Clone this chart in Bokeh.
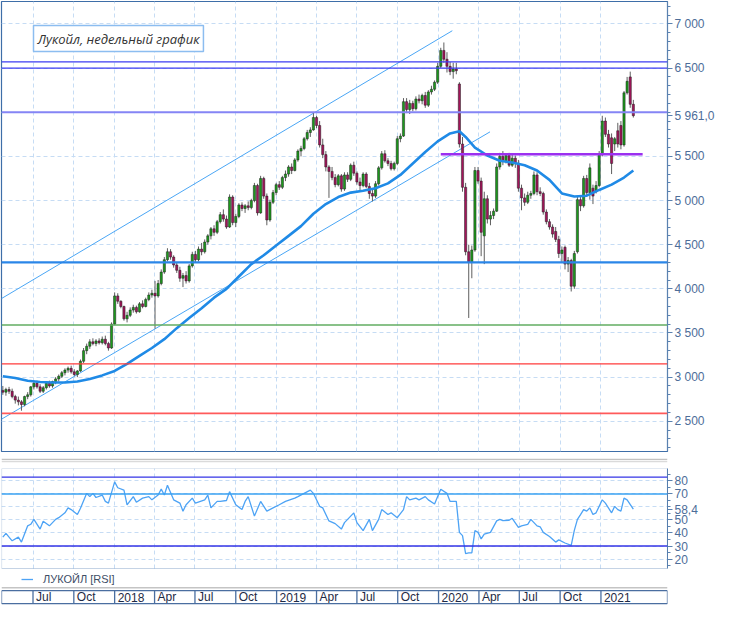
import numpy as np
import pandas as pd
from bokeh.plotting import figure
from bokeh.models import (Range1d, FixedTicker, Span, Label, Legend, LegendItem,
                          ColumnDataSource, BoxAnnotation)
from bokeh.layouts import column
from bokeh.embed import file_html
from bokeh.resources import INLINE
from bokeh.core.properties import value

# ---------------- data ----------------
week_start = "2017-04-24"
opens = [2850, 2830, 2860, 2840, 2780, 2740, 2720, 2690, 2780, 2800,
         2890, 2930, 2890, 2840, 2880, 2930, 2900, 2950, 2980, 3010,
         3050, 3080, 3100, 3060, 3030, 3070, 3180, 3300, 3350, 3400,
         3380, 3410, 3390, 3430, 3380, 3330, 3600, 3920, 3860, 3800,
         3660, 3700, 3760, 3790, 3740, 3830, 3800, 3880, 3930, 3950,
         3920, 4060, 4190, 4330, 4420, 4360, 4270, 4210, 4120, 4150,
         4090, 4260, 4390, 4330, 4450, 4420, 4530, 4600, 4680, 4640,
         4760, 4840, 4790, 4700, 5040, 4750, 4820, 4950, 4910, 4940,
         4920, 5000, 5170, 4860, 5250, 5050, 4780, 4980, 5090, 5180,
         5150, 5260, 5300, 5380, 5340, 5460, 5560, 5590, 5700, 5770,
         5800, 5940, 5850, 5630, 5520, 5380, 5330, 5260, 5180, 5280,
         5130, 5290, 5240, 5400, 5310, 5210, 5170, 5300, 5160, 5080,
         5050, 5190, 5370, 5530, 5450, 5420, 5360, 5420, 5700, 5730,
         6120, 6030, 6100, 6040, 6150, 6130, 6190, 6080, 6230, 6260,
         6340, 6520, 6700, 6600, 6520, 6460, 6490, 6320, 5640, 5150,
         4420, 4300, 4440, 5340, 5220, 4600, 5020, 4790, 4830, 4880,
         5380, 5500, 5450, 5510, 5400, 5480, 5420, 5140, 5030, 4980,
         5060, 5080, 5290, 5100, 5080, 4870, 4760, 4700, 4650, 4560,
         4400, 4470, 4280, 4320, 4030, 4420, 5010, 4940, 5250, 5090,
         5140, 5100, 5170, 5520, 5900, 5750, 5710, 5640, 5790, 5850,
         5630, 6220, 6400, 6090]
highs = [2900, 2880, 2890, 2870, 2800, 2780, 2740, 2790, 2830, 2900,
         2960, 2960, 2920, 2900, 2950, 2960, 2960, 3000, 3030, 3070,
         3100, 3120, 3130, 3090, 3080, 3200, 3330, 3380, 3430, 3440,
         3430, 3440, 3460, 3470, 3400, 3620, 3960, 3950, 3870, 3810,
         3740, 3790, 3820, 3810, 3850, 3870, 3900, 3960, 3990, 4090,
         4100, 4220, 4360, 4460, 4450, 4380, 4300, 4250, 4180, 4200,
         4280, 4420, 4430, 4480, 4520, 4560, 4620, 4700, 4720, 4780,
         4870, 4900, 4830, 5070, 5060, 4850, 4970, 4980, 4960, 4990,
         5020, 5200, 5190, 5280, 5270, 5080, 5010, 5120, 5200, 5220,
         5280, 5340, 5400, 5420, 5480, 5580, 5620, 5720, 5800, 5830,
         5990, 5960, 5900, 5700, 5560, 5400, 5380, 5300, 5300, 5300,
         5320, 5320, 5420, 5440, 5330, 5260, 5320, 5320, 5200, 5130,
         5220, 5390, 5560, 5570, 5480, 5450, 5440, 5730, 5760, 6160,
         6160, 6140, 6130, 6180, 6200, 6210, 6230, 6250, 6300, 6360,
         6560, 6730, 6790, 6680, 6570, 6560, 6560, 6340, 5720, 5200,
         4500, 4490, 5380, 5380, 5260, 5100, 5060, 4880, 4910, 5420,
         5540, 5560, 5530, 5540, 5520, 5510, 5460, 5180, 5080, 5100,
         5110, 5330, 5320, 5150, 5100, 4900, 4790, 4730, 4700, 4600,
         4480, 4490, 4360, 4340, 4430, 5040, 5060, 5280, 5290, 5420,
         5180, 5220, 5560, 5960, 5940, 5800, 5760, 5720, 5880, 5900,
         6240, 6400, 6460, 6140]
lows = [2800, 2790, 2810, 2760, 2700, 2680, 2620, 2670, 2750, 2780,
        2860, 2870, 2820, 2820, 2860, 2880, 2880, 2920, 2950, 2990,
        3020, 3050, 3040, 3010, 3000, 3060, 3160, 3260, 3320, 3360,
        3350, 3370, 3370, 3360, 3300, 3320, 3590, 3830, 3780, 3640,
        3620, 3680, 3730, 3720, 3730, 3780, 3790, 3860, 3900, 3550,
        3900, 4040, 4170, 4310, 4330, 4240, 4180, 4080, 4020, 4060,
        4070, 4240, 4300, 4310, 4380, 4400, 4500, 4560, 4600, 4620,
        4740, 4760, 4680, 4690, 4720, 4700, 4800, 4880, 4860, 4890,
        4900, 4980, 4830, 4850, 5020, 4720, 4760, 4960, 5060, 5120,
        5130, 5220, 5270, 5300, 5330, 5440, 5500, 5570, 5680, 5720,
        5790, 5820, 5600, 5480, 5330, 5030, 5230, 5150, 5160, 5100,
        5110, 5210, 5220, 5280, 5180, 5120, 5150, 5140, 5020, 4990,
        5030, 5170, 5350, 5430, 5390, 5340, 5340, 5400, 5660, 5720,
        5990, 5980, 6010, 6020, 6100, 6090, 6050, 6060, 6200, 6240,
        6320, 6500, 6560, 6450, 6420, 6380, 6430, 5600, 5100, 4380,
        3670, 4120, 4420, 5190, 4370, 4280, 4740, 4720, 4790, 4870,
        5350, 5400, 5420, 5380, 5380, 5370, 5100, 4890, 4940, 4960,
        5020, 5060, 5060, 5050, 4840, 4730, 4670, 4580, 4530, 4350,
        4300, 4220, 4190, 3970, 4000, 4400, 4880, 4920, 5050, 5010,
        4960, 5080, 5150, 5500, 5720, 5600, 5300, 5560, 5600, 5580,
        5610, 6200, 6050, 5940]
closes = [2830, 2860, 2840, 2780, 2740, 2720, 2690, 2780, 2800, 2890,
          2930, 2890, 2840, 2880, 2930, 2900, 2950, 2980, 3010, 3050,
          3080, 3100, 3060, 3030, 3070, 3180, 3300, 3350, 3400, 3380,
          3410, 3390, 3430, 3380, 3330, 3600, 3920, 3860, 3800, 3660,
          3700, 3760, 3790, 3740, 3830, 3800, 3880, 3930, 3950, 3920,
          4060, 4190, 4330, 4420, 4360, 4270, 4210, 4120, 4150, 4090,
          4260, 4390, 4330, 4450, 4420, 4530, 4600, 4680, 4640, 4760,
          4840, 4790, 4700, 5040, 4750, 4820, 4950, 4910, 4940, 4920,
          5000, 5170, 4860, 5250, 5050, 4780, 4980, 5090, 5180, 5150,
          5260, 5300, 5380, 5340, 5460, 5560, 5590, 5700, 5770, 5800,
          5940, 5850, 5630, 5520, 5380, 5330, 5260, 5180, 5280, 5130,
          5290, 5240, 5400, 5310, 5210, 5170, 5300, 5160, 5080, 5050,
          5190, 5370, 5530, 5450, 5420, 5360, 5420, 5700, 5730, 6120,
          6030, 6100, 6040, 6150, 6130, 6190, 6080, 6230, 6260, 6340,
          6520, 6700, 6600, 6520, 6460, 6490, 6470, 5640, 5150, 4420,
          4300, 4440, 5340, 5220, 4640, 5020, 4790, 4830, 4880, 5380,
          5500, 5450, 5510, 5400, 5480, 5420, 5140, 5030, 4980, 5060,
          5080, 5290, 5100, 5080, 4870, 4760, 4700, 4620, 4560, 4400,
          4440, 4280, 4320, 4030, 4400, 5010, 4940, 5250, 5090, 5370,
          5050, 5170, 5520, 5900, 5750, 5640, 5420, 5700, 5640, 5630,
          6220, 6350, 6090, 5961]

# moving average (week index, value)
ma_week = [0, 4, 8, 12, 16, 20, 24, 28, 32, 36, 40, 44, 48, 52, 56, 60, 64, 68,
           72, 76, 80, 84, 88, 92, 96, 100, 104, 108, 112, 116, 120, 124, 128,
           132, 136, 140, 144, 147, 149, 152, 156, 160, 164, 168, 172, 176, 180,
           184, 188, 192, 196, 200, 203]
ma_val = [3010, 2990, 2960, 2945, 2940, 2940, 2950, 2980, 3020, 3070, 3150, 3240,
          3330, 3430, 3555, 3670, 3780, 3900, 4000, 4140, 4280, 4380, 4490, 4600,
          4710, 4850, 4960, 5040, 5090, 5110, 5140, 5194, 5290, 5420, 5550, 5670,
          5760, 5785, 5720, 5600, 5510, 5450, 5430, 5400, 5340, 5234, 5080, 5045,
          5055, 5120, 5180, 5260, 5340]

# RSI (week index, value)
rsi_week = [0, 1, 3, 5, 6, 8, 9, 10, 12, 13, 15, 17, 18, 20, 21, 22, 24, 25, 27,
            28, 29, 30, 32, 33, 34, 36, 37, 39, 40, 42, 43, 45, 47, 48, 50, 51,
            52, 53, 55, 57, 58, 59, 61, 62, 65, 66, 67, 69, 70, 72, 73, 75, 77,
            78, 79, 81, 83, 85, 87, 89, 91, 94, 95, 97, 99, 100, 102, 103, 105,
            107, 109, 110, 113, 114, 116, 118, 119, 121, 122, 124, 125, 127, 129,
            130, 131, 133, 134, 136, 137, 139, 140, 141, 143, 144, 146, 147, 148,
            149, 150, 151, 152, 153, 154, 155, 157, 159, 160, 161, 163, 164, 166,
            167, 169, 170, 172, 173, 174, 176, 178, 179, 181, 183, 184, 185, 186,
            187, 188, 189, 190, 191, 193, 194, 196, 197, 198, 199, 200, 201, 203]
rsi_val = [36.8, 39.7, 34, 36.8, 33, 45.5, 46.7, 50.5, 43, 49, 45.5, 50.5, 51.8,
           55.5, 59.3, 58, 54.2, 59, 70.5, 68, 70.5, 67.3, 69.2, 64.3, 63, 79.3,
           74.8, 73, 61.7, 68, 63.7, 66.8, 68, 65.5, 69.2, 73.7, 69.2, 76.7, 65.5,
           63, 56.8, 61.7, 66.8, 63, 65.5, 69.2, 59.3, 64.3, 64.3, 65, 71.8, 61.7,
           58, 64.3, 68, 53, 64.3, 56.8, 59.3, 61.7, 64.3, 66.8, 68, 70.5, 73,
           70.5, 60.5, 59.3, 49.3, 47.2, 43, 48, 55.5, 48, 41.8, 50.5, 41.8, 50.5,
           58, 54.2, 55.5, 51.8, 58, 68, 65.5, 66.8, 65.5, 68, 65.5, 62.3, 68,
           73.7, 70.5, 64.3, 64.3, 40.5, 38, 24.2, 24.7, 24.7, 41.8, 40.5, 35.5,
           39.2, 40.5, 49.3, 50.5, 49.5, 49.8, 51.3, 44.3, 45.5, 46.7, 50.5, 45.5,
           44.8, 40.5, 37.3, 33, 34.7, 32.3, 30.5, 42, 50.5, 54.2, 58, 56.8, 59.3,
           54.2, 55.5, 65.5, 63, 55.5, 60.5, 58, 56.8, 66.8, 65.5, 58.4]

# horizontal levels drawn on the price chart
level_prices = [6570, 6500, 6000, 4300, 3590, 3150, 2590]
level_colors = ["#3d3df2", "#3d3df2", "#8585f5", "#2a86e8", "#62ad62", "#ff3b3b", "#ff5a5a"]
level_widths = [1.4, 1.4, 2.0, 2.2, 1.6, 1.2, 1.6]

# channel lines (date, price)
upper_channel = (["2017-04-21", "2020-02-01"], [3890, 6923])
lower_channel = (["2017-04-21", "2020-04-26"], [2524, 5778])
purple_level = 5525
purple_dates = ["2020-01-06", "2021-04-05"]

# RSI levels
rsi_levels = [83, 70, 30]
rsi_level_colors = ["#3535e6", "#3aa2f2", "#3535e6"]

# ticks
quarter_dates = ["2017-07-01", "2017-10-01", "2018-01-01", "2018-04-01", "2018-07-01",
                 "2018-10-01", "2019-01-01", "2019-04-01", "2019-07-01", "2019-10-01",
                 "2020-01-01", "2020-04-01", "2020-07-01", "2020-10-01", "2021-01-01"]
quarter_labels = ["Jul", "Oct", "2018", "Apr", "Jul", "Oct", "2019", "Apr", "Jul", "Oct",
                  "2020", "Apr", "Jul", "Oct", "2021"]
price_ticks = [2500, 3000, 3500, 4000, 4500, 5000, 5500, 6000, 6500, 7000]
rsi_ticks = [20, 30, 40, 50, 60, 70, 80]
last_price = 5961.0
last_rsi = 58.4

# ---------------- styling ----------------
FONT = "Liberation Sans"
AXIS_C = "#5b82b0"
LABEL_C = "#4d6d99"
GRID_C = "#c6dcf4"
FRAME_C = "#3e6ea8"
FRAME_W = 666
RB = 47
RSI_LO, RSI_HI = 12.7, 89.6          # visible RSI box
RSI_PAD = (RSI_HI - RSI_LO) * 18 / 100  # room under the box for the legend

weeks = pd.date_range(week_start, periods=len(closes), freq="7D")
x_start = pd.Timestamp("2017-04-21")
x_end = pd.Timestamp("2021-05-31")
xr = Range1d(start=x_start, end=x_end)
q_ts = pd.to_datetime(quarter_dates)
q_ms = [float((t - pd.Timestamp("1970-01-01")) / pd.Timedelta("1ms")) for t in q_ts]


def fmt_price(v):
    if v == last_price:
        return "5 961,0"
    return f"{int(v):,}".replace(",", " ")


def style_axis(fig, ticks, minor, overrides, grid_ticks):
    ax = fig.yaxis[0]
    ax.ticker = FixedTicker(ticks=ticks, minor_ticks=minor)
    ax.major_label_overrides = overrides
    ax.axis_line_color = AXIS_C
    ax.major_tick_line_color = AXIS_C
    ax.minor_tick_line_color = AXIS_C
    ax.major_tick_in = 0
    ax.major_tick_out = 5
    ax.minor_tick_in = 0
    ax.minor_tick_out = 3
    ax.major_label_text_color = LABEL_C
    ax.major_label_text_font = FONT
    ax.major_label_text_font_size = "12px"
    ax.major_label_standoff = 2
    fig.ygrid.ticker = FixedTicker(ticks=grid_ticks)
    fig.xgrid.ticker = FixedTicker(ticks=q_ms)
    for g in (fig.xgrid, fig.ygrid):
        g.grid_line_color = GRID_C
        g.grid_line_dash = "4 3"
        g.grid_line_width = 1
    fig.outline_line_color = FRAME_C
    fig.outline_line_width = 1.2


# ---------------- main price chart ----------------
p = figure(frame_width=FRAME_W, frame_height=450, x_range=xr, y_range=Range1d(2158, 7254),
           x_axis_type="datetime", x_axis_location=None, y_axis_location="right",
           toolbar_location=None, output_backend="svg",
           min_border_left=1, min_border_right=RB, min_border_top=1, min_border_bottom=1)
axis_prices = [t for t in price_ticks if t != 6000] + [last_price]
price_overrides = {t: fmt_price(t) for t in axis_prices}
style_axis(p, sorted(axis_prices), list(range(2200, 7300, 100)), price_overrides, price_ticks)

for lv, lc, lw in zip(level_prices, level_colors, level_widths):
    p.add_layout(Span(location=lv, dimension="width", line_color=lc, line_width=lw))

p.line(x=pd.to_datetime(upper_channel[0]), y=upper_channel[1], line_color="#4aa6f5", line_width=1)
p.line(x=pd.to_datetime(lower_channel[0]), y=lower_channel[1], line_color="#4aa6f5", line_width=1)

o = np.array(opens)
c = np.array(closes)
src = ColumnDataSource(dict(
    t=weeks, h=highs, l=lows,
    top=np.maximum(o, c), bot=np.minimum(o, c),
    fill=["#1c9a1c" if cc >= oo else "#a3145a" for oo, cc in zip(opens, closes)],
))
p.segment(x0="t", y0="h", x1="t", y1="l", source=src, line_color="#5e5e5e", line_width=1)
p.vbar(x="t", width=5 * 86400000, top="top", bottom="bot", source=src,
       fill_color="fill", line_color="#1e1e1e", line_width=0.5)

p.line(x=weeks[ma_week], y=ma_val, line_color="#1f8ae6", line_width=2.6)

pd_dates = pd.to_datetime(purple_dates)
p.segment(x0=[pd_dates[0]], y0=[purple_level], x1=[pd_dates[1]], y1=[purple_level],
          line_color="#9b30f0", line_width=2.4)

p.add_layout(Label(x=32, y=413, x_units="screen", y_units="screen",
                   text="Лукойл, недельный график", text_font="Open Sans",
                   text_font_style="italic", text_font_size="13px", text_color="#333333",
                   text_baseline="middle", text_align="left",
                   border_line_color="#8cbdf0", border_line_width=1.5,
                   background_fill_color="white", padding=4))

# ---------------- separator ----------------
s = figure(frame_width=FRAME_W, frame_height=15, x_range=Range1d(0, 1), y_range=Range1d(0, 15),
           x_axis_location=None, y_axis_location=None, toolbar_location=None,
           output_backend="svg", min_border_left=1, min_border_right=RB,
           min_border_top=0, min_border_bottom=0, outline_line_color=None)
s.grid.visible = False
s.add_layout(Span(location=8.2, dimension="width", line_color="#c2c2c2", line_width=1.3))
s.add_layout(Span(location=6.0, dimension="width", line_color="#dadada", line_width=1.3))

# ---------------- RSI ----------------
r = figure(frame_width=FRAME_W, frame_height=118, x_range=xr,
           y_range=Range1d(RSI_LO - RSI_PAD, RSI_HI),
           x_axis_type="datetime", x_axis_location=None, y_axis_location="right",
           toolbar_location=None, output_backend="svg",
           min_border_left=1, min_border_right=RB, min_border_top=1, min_border_bottom=0)
axis_rsi = [t for t in rsi_ticks if t != 60] + [last_rsi]
rsi_overrides = {t: (str(t) if t != last_rsi else "58,4") for t in axis_rsi}
style_axis(r, sorted(axis_rsi), list(range(15, 90, 5)), rsi_overrides, rsi_ticks)
r.yaxis[0].bounds = (RSI_LO, RSI_HI)
r.outline_line_color = None
try:
    r.xgrid[0].cross_bounds = (RSI_LO, RSI_HI)
except AttributeError:
    r.xgrid[0].visible = False
    r.segment(x0=q_ts, y0=[RSI_LO] * len(q_ts), x1=q_ts, y1=[RSI_HI] * len(q_ts),
              line_color=GRID_C, line_dash="4 3", line_width=1)
r.add_layout(BoxAnnotation(bottom=RSI_LO, top=RSI_HI, fill_alpha=0,
                           line_color=FRAME_C, line_width=1.2, level="overlay"))
for lv, lc in zip(rsi_levels, rsi_level_colors):
    r.add_layout(Span(location=lv, dimension="width", line_color=lc, line_width=1.3))
rl = r.line(x=weeks[rsi_week], y=rsi_val, line_color="#4da3f5", line_width=1.3)
leg = Legend(items=[LegendItem(label="ЛУКОЙЛ [RSI]", renderers=[rl])],
             location=(20, 1), orientation="horizontal",
             border_line_alpha=0, background_fill_alpha=0,
             label_text_font=FONT, label_text_font_size="11px", label_text_color="#3e4e66",
             glyph_width=12, glyph_height=12, label_height=12, label_standoff=10,
             padding=0, margin=0)
r.add_layout(leg, "center")

# ---------------- date strip ----------------
d = figure(frame_width=FRAME_W, frame_height=20, x_range=xr,
           y_range=Range1d(0, 20), x_axis_type="datetime",
           x_axis_location=None, y_axis_location=None, toolbar_location=None,
           output_backend="svg", min_border_left=1, min_border_right=RB,
           min_border_top=0, min_border_bottom=0, outline_line_color=None)
d.grid.visible = False
d.add_layout(Span(location=18.7, dimension="width", line_color="#c4c4c4", line_width=1.4))
d.add_layout(Span(location=15.8, dimension="width", line_color="#4a6ea0", line_width=1.3))
d.add_layout(Span(location=2.8, dimension="width", line_color="#4a6ea0", line_width=1.3))
sep_x = [x_start] + list(q_ts) + [x_end]
d.segment(x0=sep_x, y0=[2.8] * len(sep_x), x1=sep_x, y1=[15.8] * len(sep_x),
          line_color="#4a6ea0", line_width=1.3)
d.text(x=q_ts, y=[9.4] * len(q_ts), text=quarter_labels, x_offset=3,
       text_align="left", text_baseline="middle", text_font=value(FONT),
       text_font_size="12px", text_color="#1e2a44")

layout = column(p, s, r, d, spacing=0)
open("out.html", "w").write(file_html(layout, INLINE))
